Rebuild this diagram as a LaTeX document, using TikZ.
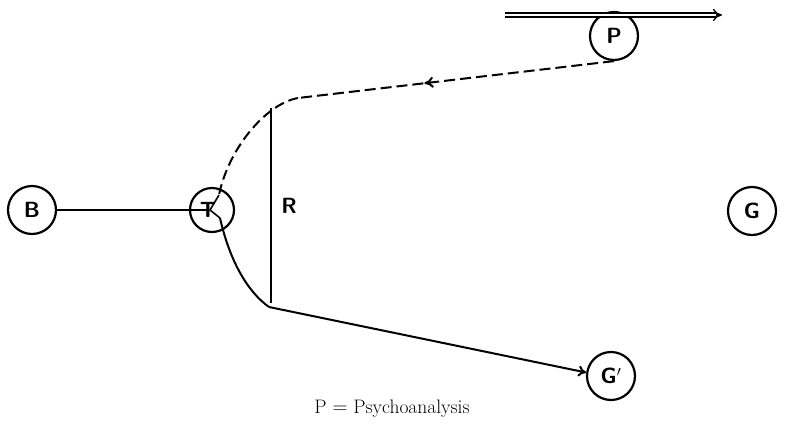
\documentclass[tikz,border=0pt]{standalone}
\usetikzlibrary{arrows.meta,decorations.markings}
\begin{document}
\begin{tikzpicture}[x=1pt,y=-1pt,
  circ/.style={circle,draw,line width=2.2pt,minimum size=48pt,inner sep=0pt,font=\fontsize{22}{24}\selectfont\sffamily\bfseries},
  ln/.style={line width=2pt},
  tip/.style={-{To[length=8pt,width=11pt]}}]
\useasboundingbox (0,0) rectangle (785,426);
\node[circ] (B) at (32,210) {B};
\node[circ,minimum size=44pt] (T) at (212,210) {\hspace*{-8pt}T};
\node[circ] (P) at (614,36) {P};
\node[circ] (G) at (752,211) {G};
\node[circ] (Gp) at (611,376) {G$'$};
% double arrow
\coordinate (da1) at (505,15);
\coordinate (da2) at (716,15);
\coordinate (da3) at (722,15);
\draw[line width=1.3pt,double distance=2.5pt] (da1) -- (da2);
\draw[line width=1.3pt,-{To[length=9pt,width=12pt]}] (da2) -- (da3);
% B to T
\coordinate (tb) at (207,210);
\draw[ln] (B.east) -- (tb);
% R line
\coordinate (r1) at (271,108);
\coordinate (r2) at (271,303);
\draw[ln] (r1) -- (r2) node[midway,right=6pt,font=\fontsize{22}{24}\selectfont\sffamily\bfseries] (Rl) {R};
% dashed path
\coordinate (top) at (298,98);
\coordinate (k1) at (219,195);
\coordinate (k2) at (210,210);
\coordinate (k3) at (220,218);
\coordinate (bot) at (269,307);
\draw[ln,dash pattern=on 11pt off 5pt,
  postaction={decorate},
  decoration={markings,mark=at position 0.6 with {\arrow[solid]{To[length=9pt,width=11pt]}}}]
  (P.south) -- (top);
\draw[ln,dash pattern=on 10pt off 5pt] (top) .. controls (265,104) and (228,150) .. (k1);
\draw[line width=1.6pt] (k1) -- (k2) -- (k3);
\draw[ln] (k3) .. controls (230,262) and (248,292) .. (bot);
\draw[ln,tip] (bot) -- (Gp.172);
% caption
\node[font=\fontsize{19.5}{22}\selectfont] (cap) at (392,409) {P $=$ Psychoanalysis};
\end{tikzpicture}
\end{document}
